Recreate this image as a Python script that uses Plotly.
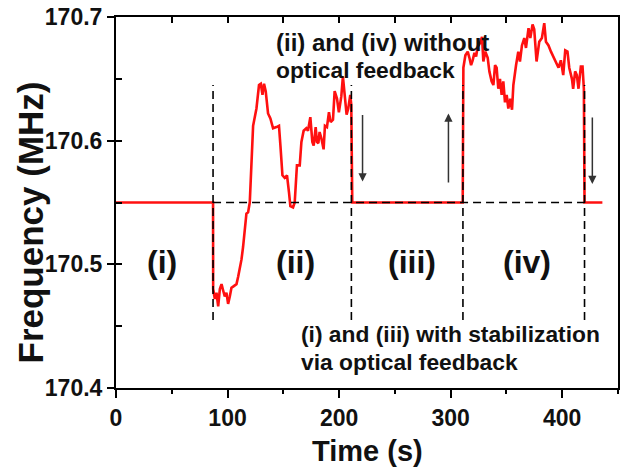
import plotly.graph_objects as go

# ---- data ----
t_i = [0.0, 87.0]
f_i = [170.55, 170.55]

t_ii = [87.1, 88.6, 90.1, 91.6, 93.1, 94.6, 96.0, 97.5, 99.0, 100.5, 102.0, 103.5,
        105.0, 106.5, 108.0, 109.5, 111.0, 112.5, 113.9, 115.4, 116.9, 118.4, 119.9,
        122.9, 125.9, 128.2, 129.8, 131.3, 132.7, 134.2, 136.3, 138.4, 140.8, 143.8,
        146.1, 147.4, 149.2, 151.2, 153.3, 155.1, 156.3, 158.7, 160.2, 162.2, 164.7,
        166.2, 168.2, 170.6, 172.1, 174.2, 176.0, 177.2, 179.0, 180.1, 181.4, 182.5,
        184.1, 186.1, 187.3, 189.1, 190.9, 192.4, 194.5, 196.0, 198.1, 199.8, 202.0,
        203.4, 205.2, 206.7, 208.2, 210.0, 210.9, 211.8]
f_ii = [170.480, 170.472, 170.477, 170.466, 170.480, 170.484, 170.479, 170.474, 170.477,
        170.468, 170.474, 170.481, 170.482, 170.483, 170.484, 170.490, 170.496, 170.504,
        170.514, 170.528, 170.541, 170.542, 170.550,
        170.612, 170.626, 170.645, 170.646, 170.637, 170.646, 170.640, 170.622, 170.618,
        170.610, 170.611, 170.612, 170.596, 170.572, 170.570, 170.572, 170.558, 170.547,
        170.546, 170.550, 170.580, 170.580, 170.599, 170.608, 170.610, 170.608, 170.619,
        170.599, 170.596, 170.611, 170.599, 170.598, 170.607, 170.602, 170.593, 170.612,
        170.611, 170.623, 170.615, 170.617, 170.640, 170.634, 170.623, 170.636, 170.652,
        170.634, 170.621, 170.626, 170.637, 170.629, 170.550]

t_iv = [310.8, 311.4, 313.2, 315.3, 316.8, 318.3, 319.7, 321.3, 322.8, 324.2, 326.4,
        328.1, 329.3, 331.1, 333.2, 334.7, 336.7, 338.3, 339.8, 341.2, 342.7, 344.2,
        345.7, 347.2, 348.7, 350.2, 351.7, 353.2, 355.0, 356.2, 358.6, 360.6, 362.1,
        363.9, 366.0, 367.5, 369.8, 371.4, 373.4, 374.9, 377.0, 379.4, 381.8, 383.9,
        385.4, 387.7, 389.9, 392.8, 394.9, 396.7, 398.8, 400.9, 402.7, 404.7, 406.3,
        408.7, 409.8, 411.6, 413.1, 414.6, 416.7, 418.2, 419.4, 420.0]
f_iv = [170.550, 170.659, 170.669, 170.672, 170.667, 170.661, 170.665, 170.671, 170.668,
        170.676, 170.679, 170.684, 170.664, 170.672, 170.667, 170.656, 170.648, 170.645,
        170.661, 170.659, 170.642, 170.650, 170.637, 170.648, 170.631, 170.637, 170.626,
        170.634, 170.625, 170.645, 170.661, 170.672, 170.664, 170.677, 170.683, 170.675,
        170.691, 170.683, 170.694, 170.690, 170.664, 170.680, 170.683, 170.695, 170.680,
        170.677, 170.672, 170.667, 170.663, 170.659, 170.665, 170.653, 170.673, 170.672,
        170.659, 170.650, 170.642, 170.656, 170.653, 170.642, 170.660, 170.660, 170.642,
        170.550]

t_end = [436.0]
f_end = [170.55]

# switching instants and guide levels
switch_times = [87, 211, 311, 420]
guide_low, guide_high = 170.455, 170.645
baseline = 170.55

# arrows: time, tail, head
arrow_t = [221, 298, 427]
arrow_tail = [170.622, 170.565, 170.620]
arrow_head = [170.567, 170.622, 170.565]

region_labels = ["(i)", "(ii)", "(iii)", "(iv)"]
region_t = [41, 161, 265, 368]
region_f = [170.502, 170.502, 170.502, 170.502]

FONT = "Arial, 'Liberation Sans', sans-serif"

time = t_i + t_ii + t_iv + t_end
freq = f_i + f_ii + f_iv + f_end

fig = go.Figure()
fig.add_trace(go.Scatter(x=time, y=freq, mode="lines",
                         line=dict(color="#ff1010", width=2.6), showlegend=False,
                         hoverinfo="skip"))

gx, gy = [], []
for ts in switch_times:
    gx += [ts, ts, None]
    gy += [guide_low, guide_high, None]
gx += [switch_times[0], switch_times[-1]]
gy += [baseline, baseline]
fig.add_trace(go.Scatter(x=gx, y=gy, mode="lines",
                         line=dict(color="black", width=1.6, dash="8px,5px"),
                         showlegend=False, hoverinfo="skip"))

# invisible trace to activate the overlay axes
fig.add_trace(go.Scatter(x=[0], y=[170.4], xaxis="x2", yaxis="y2", mode="markers",
                         marker=dict(opacity=0), showlegend=False, hoverinfo="skip"))

for t, a, h in zip(arrow_t, arrow_tail, arrow_head):
    fig.add_annotation(x=t, y=h, ax=t, ay=a, xref="x", yref="y", axref="x", ayref="y",
                       text="", showarrow=True, arrowhead=2, arrowsize=1.1,
                       arrowwidth=1.5, arrowcolor="#333333")

for lab, t, f in zip(region_labels, region_t, region_f):
    fig.add_annotation(x=t, y=f, text=lab, showarrow=False,
                       font=dict(family=FONT, size=32, color="#111", weight="bold"))

txt_font = dict(family=FONT, size=22.8, color="#111", weight="bold")
fig.add_annotation(x=142, y=170.679, text="(ii) and (iv) without", showarrow=False,
                   xanchor="left", font=dict(family=FONT, size=24, color="#111", weight="bold"))
fig.add_annotation(x=142, y=170.657, text="optical feedback", showarrow=False,
                   xanchor="left", font=txt_font)
fig.add_annotation(x=164, y=170.444, text="(i) and (iii) with stabilization", showarrow=False,
                   xanchor="left", font=txt_font)
fig.add_annotation(x=164, y=170.421, text="via optical feedback", showarrow=False,
                   xanchor="left", font=txt_font)

# axis titles placed as annotations (pixel offsets relative to the plot area)
fig.add_annotation(xref="paper", yref="paper", x=0.5, y=0, yshift=-63, text="Time (s)",
                   showarrow=False, yanchor="middle",
                   font=dict(family=FONT, size=29, color="#111", weight="bold"))
fig.add_annotation(xref="paper", yref="paper", x=0, xshift=-86, y=0.5, yshift=-20,
                   text="Frequency (MHz)", textangle=-90, showarrow=False,
                   xanchor="center", yanchor="middle",
                   font=dict(family=FONT, size=35, color="#111", weight="bold"))

fig.update_layout(
    width=620, height=468,
    margin=dict(l=116, r=2, t=17, b=80),
    paper_bgcolor="white", plot_bgcolor="white",
    font=dict(family=FONT, color="#111"),
    xaxis=dict(range=[0, 450], dtick=100, tick0=0, ticks="outside", ticklen=8,
               tickwidth=2, tickcolor="black", showline=True, linewidth=2,
               linecolor="black", mirror=True, showgrid=False, zeroline=False,
               automargin=False, ticklabeloverflow="allow",
               tickfont=dict(size=23, weight="bold"),
               minor=dict(dtick=50, ticks="outside", ticklen=4, tickwidth=2,
                          tickcolor="black", showgrid=False)),
    yaxis=dict(range=[170.4, 170.7], dtick=0.1, tick0=170.4, ticks="outside", ticklen=7,
               tickwidth=2, tickcolor="black", showline=True, linewidth=2,
               linecolor="black", mirror=True, showgrid=False, zeroline=False,
               automargin=False, ticklabeloverflow="allow",
               tickformat=".1f", tickfont=dict(size=23, weight="bold")),
    xaxis2=dict(overlaying="x", side="top", matches="x", range=[0, 450], dtick=50,
                ticks="inside", ticklen=6, tickwidth=2, tickcolor="black",
                showticklabels=False, showgrid=False, zeroline=False, showline=False,
                automargin=False),
    yaxis2=dict(overlaying="y", side="left", matches="y", range=[170.4, 170.7], dtick=0.05,
                tick0=170.4, ticks="inside", ticklen=6, tickwidth=2, tickcolor="black",
                showticklabels=False, showgrid=False, zeroline=False, showline=False,
                automargin=False),
)

# remove the default 8px page margin so the figure fills the window exactly
fig.write_html("out.html", config={"displayModeBar": False},
               post_script="document.body.style.margin='0px';document.body.style.overflow='hidden';")
